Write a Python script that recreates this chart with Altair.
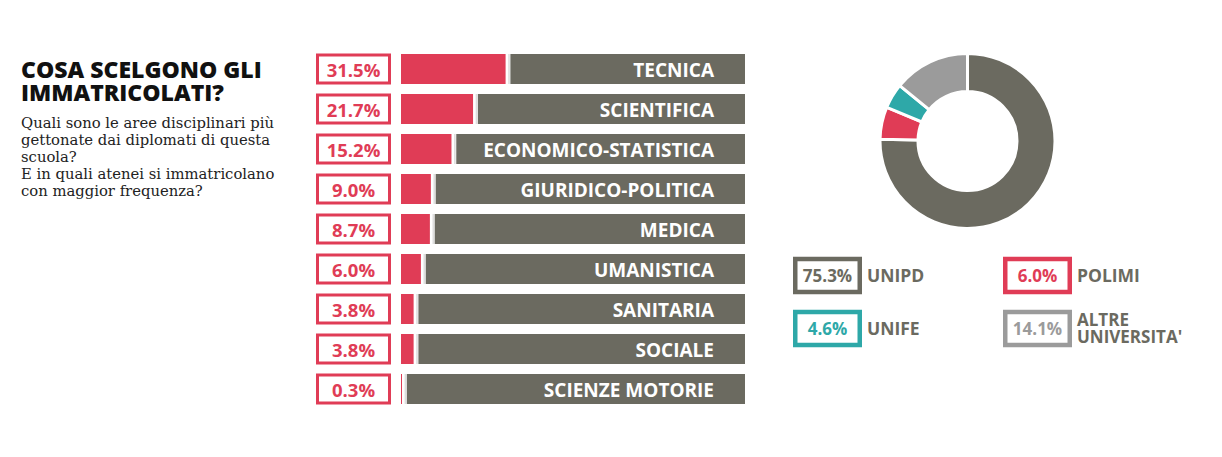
import altair as alt
import pandas as pd
import math

# ---------------- data ----------------
categories = ["TECNICA", "SCIENTIFICA", "ECONOMICO-STATISTICA", "GIURIDICO-POLITICA",
              "MEDICA", "UMANISTICA", "SANITARIA", "SOCIALE", "SCIENZE MOTORIE"]
shares = [31.5, 21.7, 15.2, 9.0, 8.7, 6.0, 3.8, 3.8, 0.3]

universities = ["UNIPD", "POLIMI", "UNIFE", "ALTRE UNIVERSITA'"]
uni_shares = [75.3, 6.0, 4.6, 14.1]

title_lines = ["COSA SCELGONO GLI", "IMMATRICOLATI?"]
subtitle_lines = ["Quali sono le aree disciplinari più",
                  "gettonate dai diplomati di questa",
                  "scuola?",
                  "E in quali atenei si immatricolano",
                  "con maggior frequenza?"]

# ---------------- style ----------------
GREY = "#6b6a60"
RED = "#e03c56"
TEAL = "#2ea8a8"
LIGHT = "#9b9b9b"
uni_palette = [GREY, RED, TEAL, LIGHT]
SANS = "Open Sans"

bars = pd.DataFrame({"cat": categories, "pct": shares})
unis = pd.DataFrame({"name": universities, "pct": uni_shares, "idx": list(range(len(universities)))})

BAR_END = 103.6
xs = alt.Scale(domain=[0, BAR_END], range=[393, 737], nice=False, zero=True)
ys = alt.Scale(domain=categories, range=[41, 401], paddingInner=0.25, paddingOuter=0.125)
cs = alt.Scale(domain=universities, range=uni_palette)
lxs = alt.Scale(domain=[0, 1], range=[819.5, 1029.5], nice=False, zero=False)
lys = alt.Scale(domain=[0, 1], range=[267.5, 320.5], nice=False, zero=False)

Y = alt.Y("cat:N", scale=ys, axis=None)

base_bars = alt.Chart(bars).transform_calculate(
    label="format(datum.pct, '.1f') + '%'"
)

red_bar = base_bars.mark_bar(color=RED).encode(
    x=alt.X("pct:Q", scale=xs, axis=None, stack=None), y=Y
)
sep_bar = base_bars.mark_bar(color="#dedede", xOffset=2.6, x2Offset=4.2).encode(
    x=alt.X("pct:Q", scale=xs, axis=None, stack=None), x2=alt.X2("pct"), y=Y
)
grey_bar = base_bars.mark_bar(color=GREY, xOffset=4.8).encode(
    x=alt.X("pct:Q", scale=xs, axis=None, stack=None), x2=alt.datum(BAR_END), y=Y
)
cat_text = base_bars.mark_text(font=SANS, fontWeight="bold", fontSize=19, color="white",
                               align="right", baseline="middle", dy=1.5).encode(
    x=alt.value(706), y=Y, text="cat:N"
)
pct_box = base_bars.mark_bar(fill="white", stroke=RED, strokeWidth=3, height=28).encode(
    x=alt.value(309.5), x2=alt.value(381.5), y=Y
)
pct_text = base_bars.mark_text(font=SANS, fontWeight="bold", fontSize=18.5, color=RED,
                               align="center", baseline="middle", dy=1.5).encode(
    x=alt.value(345.5), y=Y, text="label:N"
)

# title block
one = pd.DataFrame({"k": [0]})
title = alt.Chart(one).mark_text(text=title_lines, font=SANS, fontWeight=800, fontSize=23,
                                 lineHeight=23, align="left", baseline="alphabetic",
                                 color="#111111").encode(x=alt.value(13), y=alt.value(69.5))
subtitle = alt.Chart(one).mark_text(text=subtitle_lines, font="DejaVu Serif", fontSize=14.8,
                                    lineHeight=17, align="left", baseline="alphabetic",
                                    color="#222222").encode(x=alt.value(13), y=alt.value(119.5))

# donut
donut = alt.Chart(unis).mark_arc(innerRadius=49.5, outerRadius=87.5, stroke="white",
                                 strokeWidth=3).encode(
    theta=alt.Theta("pct:Q", stack=True, scale=alt.Scale(range=[0, 2 * math.pi])),
    color=alt.Color("name:N", scale=cs, legend=None),
    order=alt.Order("idx:Q"),
    x=alt.value(959.5), y=alt.value(133),
)

# legend
leg = alt.Chart(unis).transform_calculate(
    col="datum.idx % 2", row="floor(datum.idx / 2)",
    label="format(datum.pct, '.1f') + '%'"
)
LX = alt.X("col:Q", scale=lxs, axis=None)
LY = alt.Y("row:Q", scale=lys, axis=None)
leg_box = leg.mark_rect(fill="white", strokeWidth=4.5, xOffset=-32.25, x2Offset=32.25,
                        yOffset=-16.5, y2Offset=16.5).encode(
    x=LX, x2=alt.X2("col"), y=LY, y2=alt.Y2("row"),
    stroke=alt.Stroke("name:N", scale=cs, legend=None),
)
leg_pct = leg.mark_text(font=SANS, fontWeight="bold", fontSize=17, align="center",
                        baseline="middle", dy=1).encode(
    x=LX, y=LY, text="label:N", color=alt.Color("name:N", scale=cs, legend=None)
)
leg_name_single = leg.transform_filter("indexof(datum.name, ' ') < 0").mark_text(
    font=SANS, fontWeight="bold", fontSize=17.5, align="left", baseline="middle",
    dx=39.5, dy=1, color=GREY).encode(x=LX, y=LY, text="name:N")
leg_name_multi = leg.transform_filter("indexof(datum.name, ' ') >= 0").mark_text(
    font=SANS, fontWeight="bold", fontSize=17, align="left", baseline="middle",
    dx=39.5, dy=-7.5, lineBreak=" ", lineHeight=17, color=GREY).encode(
    x=LX, y=LY, text="name:N")

chart = alt.layer(
    title, subtitle, red_bar, sep_bar, grey_bar, cat_text, pct_box, pct_text,
    donut, leg_box, leg_pct, leg_name_single, leg_name_multi
).resolve_scale(x="independent", y="independent").properties(
    width=1206, height=441, autosize=alt.AutoSizeParams(type="none"), padding=0
).configure_view(stroke=None)

chart.save("out.html", embed_options={"renderer": "svg", "actions": False})
